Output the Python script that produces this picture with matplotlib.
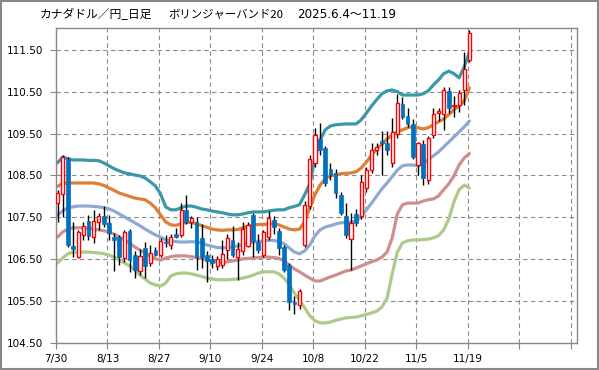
import matplotlib
matplotlib.use('Agg')
import matplotlib.pyplot as plt
from matplotlib.patches import Rectangle
import numpy as np

title_parts = ['カナダドル／円_日足', 'ボリンジャーバンド20', '2025.6.4～11.19']
tick_labels = ['7/30', '8/13', '8/27', '9/10', '9/24', '10/8', '10/22', '11/5', '11/19']
y_ticks = [104.5, 105.5, 106.5, 107.5, 108.5, 109.5, 110.5, 111.5]

opens = [107.85, 108.05, 108.90, 106.82, 106.55, 107.08, 107.42, 107.03, 107.40, 107.54,
         107.36, 107.02, 107.02, 106.52, 107.18, 106.60, 106.22, 106.76, 106.42, 106.72,
         106.60, 106.92, 106.84, 107.10, 107.08, 107.68, 107.40, 107.40, 107.00, 106.60,
         106.50, 106.35, 106.36, 106.72, 106.96, 106.55, 106.70, 106.82, 107.55, 106.92,
         106.60, 107.02, 107.44, 107.18, 106.80, 106.36, 105.48, 105.40, 106.84, 107.77,
         108.80, 109.37, 109.15, 108.66, 108.55, 108.04, 107.53, 106.98, 107.58, 107.52,
         108.20, 108.62, 109.11, 109.33, 109.27, 108.79, 109.50, 110.20, 109.93, 109.72,
         108.75, 109.25, 108.39, 109.47, 110.00, 109.96, 110.52, 110.15, 110.19, 110.54,
         111.26]
highs = [108.15, 109.00, 108.95, 107.40, 107.20, 107.40, 107.55, 107.68, 107.60, 107.78,
         107.55, 107.12, 107.08, 107.20, 107.22, 106.70, 106.75, 106.90, 106.85, 106.80,
         107.00, 107.08, 107.10, 107.25, 107.85, 108.04, 107.52, 107.50, 107.35, 106.70,
         106.60, 106.58, 106.96, 107.10, 107.30, 106.90, 107.40, 107.40, 107.60, 107.10,
         107.20, 107.64, 107.52, 107.25, 106.85, 106.40, 105.62, 105.80, 107.90, 109.00,
         109.64, 109.75, 109.20, 108.80, 108.65, 108.10, 107.84, 107.60, 107.70, 108.51,
         108.70, 109.27, 109.28, 109.55, 109.55, 109.87, 110.45, 110.38, 110.10, 109.85,
         109.30, 109.35, 109.45, 110.10, 110.10, 110.60, 110.60, 110.40, 110.55, 111.45,
         111.98]
lows = [107.40, 107.50, 106.80, 106.55, 106.52, 106.96, 106.95, 106.89, 107.20, 107.28,
        106.95, 106.22, 106.36, 106.44, 106.20, 106.05, 106.12, 106.05, 106.35, 106.58,
        106.55, 106.78, 106.75, 107.00, 107.04, 107.35, 107.24, 106.24, 106.30, 105.95,
        106.30, 106.25, 106.30, 106.50, 106.55, 106.00, 106.60, 106.78, 106.55, 106.65,
        106.55, 106.95, 107.10, 106.60, 106.20, 105.29, 105.20, 105.30, 106.80, 107.70,
        108.70, 109.00, 108.25, 108.40, 107.96, 107.55, 107.00, 106.24, 107.30, 107.45,
        108.10, 108.55, 109.00, 108.51, 109.00, 108.70, 109.40, 109.85, 109.65, 108.90,
        108.51, 108.27, 108.30, 109.40, 109.80, 109.59, 110.00, 109.90, 110.02, 110.19,
        111.20]
closes = [108.08, 108.95, 106.85, 106.74, 107.14, 107.30, 107.06, 107.42, 107.53, 107.33,
          107.12, 106.95, 106.56, 107.16, 106.48, 106.25, 106.58, 106.34, 106.64, 106.60,
          106.94, 106.88, 107.04, 107.04, 107.68, 107.40, 107.48, 106.56, 106.55, 106.45,
          106.42, 106.50, 106.62, 107.00, 106.60, 106.74, 107.22, 107.32, 106.94, 106.72,
          107.16, 107.48, 107.26, 106.76, 106.25, 105.49, 105.43, 105.73, 107.80, 108.89,
          109.47, 109.10, 108.32, 108.50, 108.09, 107.60, 107.08, 107.37, 107.37, 108.35,
          108.62, 109.11, 109.19, 109.27, 109.10, 109.53, 110.23, 109.90, 109.72, 108.95,
          109.27, 108.45, 109.39, 109.96, 110.03, 110.54, 110.12, 110.19, 110.47, 111.05,
          111.90]

upper2 = [108.80, 108.94, 108.90, 108.87, 108.87, 108.87, 108.86, 108.86, 108.85, 108.80,
          108.73, 108.66, 108.61, 108.56, 108.54, 108.51, 108.49, 108.44, 108.35, 108.25,
          108.06, 107.75, 107.68, 107.68, 107.73, 107.77, 107.77, 107.74, 107.70, 107.68,
          107.65, 107.63, 107.61, 107.58, 107.56, 107.56, 107.58, 107.61, 107.63, 107.63,
          107.63, 107.65, 107.67, 107.68, 107.68, 107.73, 107.76, 107.80, 108.04, 108.30,
          108.92, 109.35, 109.59, 109.68, 109.71, 109.72, 109.73, 109.73, 109.73, 109.83,
          109.99, 110.16, 110.31, 110.45, 110.52, 110.54, 110.50, 110.42, 110.42, 110.42,
          110.42, 110.45, 110.52, 110.66, 110.78, 110.93, 110.99, 110.93, 110.83, 111.09,
          111.45]
upper1 = [108.24, 108.31, 108.32, 108.32, 108.32, 108.32, 108.32, 108.32, 108.30, 108.26,
          108.20, 108.14, 108.08, 108.04, 108.00, 107.96, 107.94, 107.92, 107.84, 107.73,
          107.56, 107.39, 107.32, 107.31, 107.34, 107.38, 107.38, 107.34, 107.30, 107.26,
          107.22, 107.20, 107.19, 107.20, 107.20, 107.21, 107.25, 107.28, 107.32, 107.33,
          107.33, 107.34, 107.35, 107.32, 107.27, 107.22, 107.20, 107.22, 107.39, 107.73,
          108.04, 108.27, 108.42, 108.49, 108.51, 108.54, 108.55, 108.56, 108.59, 108.68,
          108.82, 108.99, 109.13, 109.25, 109.37, 109.47, 109.54, 109.59, 109.64, 109.66,
          109.64, 109.61, 109.64, 109.71, 109.78, 109.85, 109.95, 110.07, 110.16, 110.28,
          110.59]
middle = [107.56, 107.65, 107.73, 107.75, 107.77, 107.77, 107.77, 107.76, 107.75, 107.73,
          107.70, 107.65, 107.58, 107.51, 107.44, 107.37, 107.30, 107.22, 107.15, 107.08,
          107.03, 106.96, 106.94, 106.92, 106.91, 106.91, 106.92, 106.91, 106.89, 106.84,
          106.81, 106.78, 106.77, 106.78, 106.79, 106.82, 106.85, 106.89, 106.91, 106.92,
          106.94, 106.95, 106.95, 106.92, 106.87, 106.77, 106.67, 106.63, 106.70, 106.84,
          107.06, 107.20, 107.27, 107.30, 107.34, 107.37, 107.37, 107.39, 107.41, 107.53,
          107.68, 107.84, 108.01, 108.18, 108.32, 108.47, 108.63, 108.73, 108.75, 108.75,
          108.73, 108.78, 108.87, 108.97, 109.06, 109.18, 109.30, 109.42, 109.54, 109.66,
          109.80]
lower1 = [107.03, 107.15, 107.22, 107.25, 107.25, 107.25, 107.24, 107.22, 107.20, 107.18,
          107.15, 107.10, 107.03, 106.96, 106.89, 106.79, 106.72, 106.65, 106.58, 106.51,
          106.48, 106.53, 106.56, 106.58, 106.58, 106.58, 106.56, 106.54, 106.52, 106.48,
          106.46, 106.44, 106.42, 106.44, 106.46, 106.48, 106.51, 106.52, 106.53, 106.54,
          106.55, 106.55, 106.54, 106.52, 106.46, 106.36, 106.27, 106.20, 106.12, 106.05,
          105.98, 105.98, 106.03, 106.08, 106.12, 106.17, 106.22, 106.24, 106.29, 106.34,
          106.39, 106.44, 106.48, 106.55, 106.67, 107.01, 107.58, 107.80, 107.84, 107.84,
          107.84, 107.89, 107.92, 107.94, 108.01, 108.16, 108.30, 108.49, 108.75, 108.92,
          109.02]
lower2 = [106.41, 106.53, 106.63, 106.67, 106.67, 106.67, 106.67, 106.66, 106.65, 106.63,
          106.60, 106.55, 106.48, 106.41, 106.34, 106.24, 106.12, 106.03, 105.93, 105.89,
          105.86, 105.93, 106.10, 106.15, 106.17, 106.17, 106.15, 106.12, 106.09, 106.05,
          106.03, 106.01, 106.01, 106.01, 106.02, 106.03, 106.05, 106.08, 106.12, 106.17,
          106.20, 106.20, 106.20, 106.15, 106.05, 105.89, 105.69, 105.53, 105.34, 105.15,
          105.03, 104.98, 104.98, 105.00, 105.04, 105.07, 105.10, 105.11, 105.12, 105.15,
          105.18, 105.22, 105.26, 105.36, 105.57, 106.15, 106.67, 106.89, 106.94, 106.96,
          106.96, 106.97, 106.98, 107.01, 107.06, 107.20, 107.46, 107.87, 108.16, 108.27,
          108.20]

band_colors = ['#3A98A8', '#E07F34', '#8FA9D3', '#D08E8C', '#AFC98B']

W, H = 599, 370
fig = plt.figure(figsize=(W / 100, H / 100), dpi=100)
fig.patch.set_facecolor('white')
ax = fig.add_axes([56 / W, 1 - 343 / H, (577 - 56) / W, (343 - 28) / H])

n = len(closes)
x = np.arange(n) + 0.3

for vals, col in zip([upper2, upper1, middle, lower1, lower2], band_colors):
    ax.plot(x, vals, color=col, lw=2.3, solid_capstyle='round', zorder=2)

o = np.array(opens); c = np.array(closes)
ax.vlines(x, lows, highs, color='black', lw=1.0, zorder=3)
up = c >= o
bottoms = np.minimum(o, c)
heights = np.maximum(np.abs(c - o), 0.025)
ax.bar(x[up], heights[up], bottom=bottoms[up], width=0.62, color='white',
       edgecolor='#FF0000', linewidth=1.0, zorder=4)
ax.bar(x[~up], heights[~up], bottom=bottoms[~up], width=0.72, color='#0070C0',
       edgecolor='#0070C0', linewidth=0.5, zorder=4)

ax.set_xlim(0, 101.2)
ax.set_ylim(104.5, 112.02)
ax.set_xticks(np.arange(0, 101, 10))
ax.set_xticklabels(tick_labels + ['', ''])
ax.set_yticks(y_ticks)
ax.set_yticklabels([f'{v:.2f}' for v in y_ticks])
ax.grid(True, color='#8C8C8C', linestyle=(0, (4, 3)), lw=0.8, zorder=0)
ax.set_axisbelow(True)
for s in ax.spines.values():
    s.set_color('#888888')
    s.set_linewidth(1.0)
ax.tick_params(axis='both', colors='#888888', labelcolor='black', labelsize=7.5,
               length=4, direction='out')
ax.tick_params(axis='x', pad=4)
ax.tick_params(axis='y', pad=5)
for lab in ax.get_xticklabels() + ax.get_yticklabels():
    lab.set_family('DejaVu Sans')

title_x = [40, 168, 297]
title_size = [8.5, 8.2, 8.6]
title_fam = [['Noto Sans CJK JP', 'DejaVu Sans'], ['Noto Sans CJK JP', 'DejaVu Sans'],
             ['DejaVu Sans', 'Noto Sans CJK JP']]
for px, txt, fs, fam in zip(title_x, title_parts, title_size, title_fam):
    fig.text(px / W, 1 - 15 / H, txt, fontsize=fs, family=fam, va='center', ha='left')

fig.patches.append(Rectangle((0.0015, 0.0025), 0.997, 0.995, transform=fig.transFigure,
                             fill=False, edgecolor='#888888', lw=1.5))

fig.savefig('out.png', dpi=100)
